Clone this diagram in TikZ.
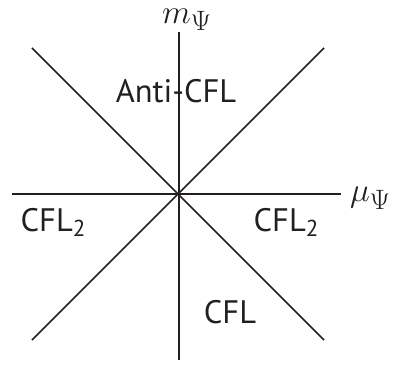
\documentclass[tikz,border=0pt]{standalone}
\usepackage{fontspec}
\setsansfont{PT Sans}
\usepackage{graphicx}
\usepackage{tikz}
\usetikzlibrary{positioning}
\definecolor{ink}{HTML}{231F20}
\newcommand{\sub}[1]{\raisebox{-5pt}{\fontsize{23}{26}\selectfont #1}}
\newcommand{\axlab}[1]{\scalebox{1.35}{$#1$}}

\begin{document}
\begin{tikzpicture}[x=1pt,y=-1pt,
  ax/.style={draw=ink,line width=1.5pt},
  reg/.style={text=ink,inner sep=0pt,font=\sffamily\fontsize{32.5}{38}\selectfont},
  lab/.style={text=ink,inner sep=0pt,font=\fontsize{24.88}{30}\selectfont}]
\useasboundingbox (0,0) rectangle (406,371);
% origin and ends of the axes
\coordinate (O) at (179,194);
\coordinate (top) at (179,32);
\coordinate (bot) at (179,360);
\coordinate (lft) at (12,194);
\coordinate (rgt) at (341,194);
% ends of the two diagonals
\coordinate (tl) at (32,48);
\coordinate (tr) at (324,48);
\coordinate (bl) at (32,340);
\coordinate (br) at (324,340);
\draw[ax](top)--(bot);
\draw[ax](lft)--(rgt);
\draw[ax](tl)--(br);
\draw[ax](bl)--(tr);
% axis labels
\node[lab,above=1pt of top,xshift=8pt](m){\axlab{m_\Psi}};
\node[lab,right=9pt of rgt,yshift=-4pt](mu){\axlab{\mu_\Psi}};
% phases
\node[reg](anti) at (176,91){Anti-CFL};
\node[reg](cfll) at (53,222){CFL\sub{2}};
\node[reg](cflr) at (286,222){CFL\sub{2}};
\node[reg](cfl) at (230,312){CFL};
\end{tikzpicture}
\end{document}
